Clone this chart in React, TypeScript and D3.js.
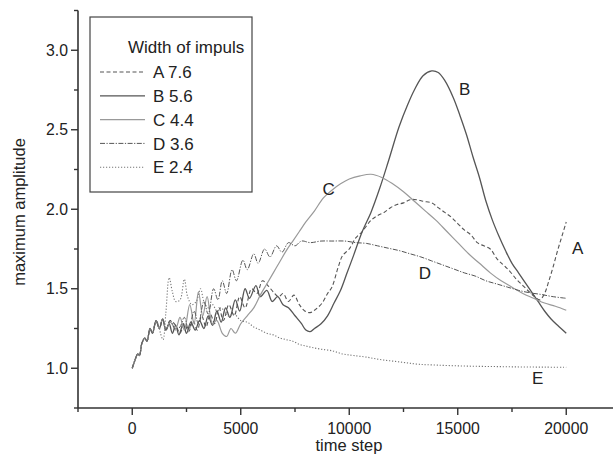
import React from "react";
import * as d3 from "d3";

const ramp: [number, number][] = [
  [0, 1.0], [150, 1.06], [250, 1.09], [330, 1.08], [450, 1.16], [580, 1.19], [680, 1.17],
  [820, 1.25], [930, 1.22], [1100, 1.3], [1250, 1.25],
];

const seriesA: [number, number][] = [
  [1400, 1.31], [1550, 1.24], [1750, 1.3], [2000, 1.27], [2200, 1.22], [2400, 1.28], [2600, 1.23], [2800, 1.3],
  [3000, 1.24], [3200, 1.33], [3400, 1.26], [3600, 1.34], [3800, 1.28], [4000, 1.38], [4200, 1.3],
  [4450, 1.4], [4700, 1.33], [4950, 1.45], [5200, 1.38], [5500, 1.5], [5750, 1.47], [6000, 1.55],
  [6250, 1.52], [6500, 1.48], [6750, 1.45], [6950, 1.47], [7200, 1.42], [7450, 1.46], [7700, 1.4],
  [7950, 1.36], [8200, 1.35], [8450, 1.37], [8750, 1.41], [9000, 1.47], [9200, 1.51], [9500, 1.64],
  [9700, 1.71], [10000, 1.75], [10300, 1.82], [10600, 1.86], [11000, 1.93], [11300, 1.96], [11600, 1.98],
  [11900, 2.01], [12200, 2.03], [12500, 2.04], [12800, 2.06], [13100, 2.06], [13400, 2.05], [13800, 2.04],
  [14100, 2.01], [14400, 1.98], [14700, 1.95], [15000, 1.91], [15300, 1.87], [15600, 1.84], [15900, 1.79],
  [16200, 1.77], [16500, 1.75], [16800, 1.69], [17100, 1.65], [17400, 1.61], [17700, 1.56], [18000, 1.52],
  [18300, 1.48], [18550, 1.45], [18780, 1.43], [19000, 1.47], [19200, 1.55], [19400, 1.64], [19600, 1.74],
  [19800, 1.83], [20000, 1.92],
];

const seriesB: [number, number][] = [
  [1400, 1.31], [1550, 1.24], [1700, 1.28], [1850, 1.22], [2000, 1.27], [2150, 1.21], [2350, 1.28],
  [2500, 1.22], [2700, 1.29], [2900, 1.24], [3100, 1.3], [3300, 1.25], [3500, 1.33], [3700, 1.27], [3900, 1.36],
  [4100, 1.29], [4300, 1.38], [4500, 1.32], [4750, 1.43], [4950, 1.36], [5200, 1.5], [5400, 1.44], [5700, 1.52],
  [5900, 1.45], [6200, 1.49], [6450, 1.42], [6700, 1.45], [6950, 1.4], [7200, 1.38], [7500, 1.33], [7800, 1.28],
  [8000, 1.24], [8200, 1.23], [8400, 1.25], [8700, 1.28], [9000, 1.33], [9300, 1.41], [9600, 1.49], [9900, 1.6],
  [10200, 1.71], [10600, 1.86], [11000, 1.98], [11400, 2.13], [11800, 2.3], [12300, 2.52], [12700, 2.66],
  [13000, 2.75], [13400, 2.84], [13800, 2.87], [14100, 2.86], [14400, 2.81], [14800, 2.7], [15100, 2.59],
  [15400, 2.47], [15700, 2.33], [16000, 2.2], [16300, 2.05], [16600, 1.93], [16900, 1.83], [17200, 1.74],
  [17500, 1.66], [17800, 1.6], [18100, 1.54], [18400, 1.48], [18700, 1.42], [19000, 1.36], [19300, 1.31],
  [19600, 1.27], [20000, 1.22],
];

const seriesC: [number, number][] = [
  [1400, 1.31], [1550, 1.24], [1750, 1.29], [2000, 1.25], [2200, 1.32], [2400, 1.24], [2650, 1.4], [2850, 1.28],
  [3050, 1.48], [3250, 1.33], [3450, 1.45], [3700, 1.28], [3900, 1.3], [4150, 1.22], [4350, 1.2], [4550, 1.25],
  [4750, 1.22], [5000, 1.28], [5300, 1.33], [5600, 1.38], [5900, 1.46], [6200, 1.53], [6500, 1.6], [6800, 1.67],
  [7100, 1.74], [7400, 1.8], [7700, 1.86], [8000, 1.92], [8400, 1.99], [8800, 2.07], [9200, 2.12], [9600, 2.16],
  [10000, 2.19], [10500, 2.21], [11000, 2.22], [11500, 2.2], [12000, 2.16], [12500, 2.11], [13000, 2.05],
  [13500, 1.99], [14000, 1.93], [14500, 1.86], [15000, 1.79], [15500, 1.72], [16000, 1.66], [16500, 1.6],
  [17000, 1.55], [17500, 1.51], [18000, 1.47], [18500, 1.44], [19000, 1.41], [19500, 1.39], [20000, 1.365],
];

const seriesD: [number, number][] = [
  [1400, 1.31], [1550, 1.24], [1750, 1.3], [2000, 1.24], [2200, 1.26], [2400, 1.32], [2600, 1.24], [2850, 1.36],
  [3050, 1.28], [3300, 1.42], [3500, 1.34], [3750, 1.5], [3950, 1.43], [4150, 1.55], [4350, 1.47], [4600, 1.62],
  [4800, 1.55], [5100, 1.68], [5300, 1.62], [5600, 1.72], [5800, 1.66], [6100, 1.75], [6350, 1.7], [6650, 1.77],
  [6900, 1.73], [7200, 1.79], [7500, 1.77], [7800, 1.8], [8200, 1.79], [8700, 1.8], [9200, 1.8], [9800, 1.8],
  [10300, 1.79], [10800, 1.785], [11300, 1.77], [11800, 1.755], [12300, 1.74], [12800, 1.72], [13300, 1.7],
  [13800, 1.675], [14300, 1.65], [14800, 1.625], [15300, 1.6], [15800, 1.58], [16300, 1.55], [16800, 1.53],
  [17300, 1.51], [17800, 1.49], [18300, 1.475], [18800, 1.465], [19400, 1.45], [20000, 1.44],
];

const seriesE: [number, number][] = [
  [1300, 1.22], [1420, 1.18], [1550, 1.35], [1700, 1.57], [1850, 1.48], [2000, 1.42], [2200, 1.43], [2400, 1.56],
  [2550, 1.45], [2750, 1.4], [2950, 1.42], [3150, 1.5], [3300, 1.42], [3500, 1.38], [3700, 1.4], [3900, 1.36],
  [4100, 1.38], [4400, 1.33], [4700, 1.34], [5000, 1.3], [5300, 1.29], [5600, 1.26], [5900, 1.24], [6200, 1.22],
  [6500, 1.21], [6800, 1.19], [7100, 1.18], [7400, 1.17], [7700, 1.15], [8000, 1.14], [8300, 1.13], [8700, 1.12],
  [9200, 1.11], [9700, 1.09], [10200, 1.08], [10800, 1.07], [11400, 1.055], [12000, 1.045], [12600, 1.035],
  [13200, 1.025], [14000, 1.02], [15000, 1.015], [16000, 1.012], [17000, 1.01], [18000, 1.008], [19000, 1.007],
  [20000, 1.006],
];

const legendTitle = "Width of impuls";
const seriesNames = ["A 7.6", "B 5.6", "C 4.4", "D 3.6", "E 2.4"];
const seriesLetters = ["A", "B", "C", "D", "E"];
const labelPos: [number, number][] = [
  [20530, 1.755], [15320, 2.76], [9050, 2.13], [13480, 1.6], [18680, 0.94],
];
const xTicks = [0, 5000, 10000, 15000, 20000];
const xMinor = [-2500, 2500, 7500, 12500, 17500, 22500];
const yTicks = [1.0, 1.5, 2.0, 2.5, 3.0];
const yMinor = [0.75, 1.25, 1.75, 2.25, 2.75, 3.25];

const styles = [
  { stroke: "#555", dash: "4,2.5", width: 1.1 },
  { stroke: "#555", dash: "", width: 1.3 },
  { stroke: "#999", dash: "", width: 1.2 },
  { stroke: "#555", dash: "5,1.5,1.2,1.5", width: 1.0 },
  { stroke: "#777", dash: "1.2,1.8", width: 1.1 },
];

export default function App() {
  const W = 613, H = 462;
  const x = d3.scaleLinear().domain([-2500, 22500]).range([78, 620.5]);
  const y = d3.scaleLinear().domain([0.75, 3.25]).range([408, 10.5]);
  const all = [seriesA, seriesB, seriesC, seriesD, seriesE].map((s) => [...ramp, ...s]);
  const line = d3.line<[number, number]>().x((d) => x(d[0])).y((d) => y(d[1])).curve(d3.curveCatmullRom.alpha(0.5));
  const font = "Liberation Sans, Arial, sans-serif";
  const axisColor = "#333";
  const tickFs = 15.8;
  const legFs = 17;
  return (
    <svg width={W} height={H} style={{ position: "absolute", left: 0, top: 0, background: "#fff" }} fontFamily={font}>
      <rect x={0} y={0} width={W} height={H} fill="#fff" />
      {all.map((s, i) => (
        <path key={i} d={line(s) || ""} fill="none" stroke={styles[i].stroke} strokeWidth={styles[i].width}
          strokeDasharray={styles[i].dash || undefined} />
      ))}
      <line x1={78} x2={78} y1={y(3.25)} y2={408} stroke={axisColor} strokeWidth={1.6} />
      <line x1={78} x2={W} y1={408} y2={408} stroke={axisColor} strokeWidth={1.6} />
      {yTicks.map((t) => (
        <g key={"yt" + t}>
          <line x1={78} x2={71} y1={y(t)} y2={y(t)} stroke={axisColor} strokeWidth={1.4} />
          <text x={68} y={y(t)} dy="0.36em" textAnchor="end" fontSize={tickFs} fill="#222">{t.toFixed(1)}</text>
        </g>
      ))}
      {yMinor.map((t) => (
        <line key={"ym" + t} x1={78} x2={74} y1={y(t)} y2={y(t)} stroke={axisColor} strokeWidth={1.4} />
      ))}
      {xTicks.map((t) => (
        <g key={"xt" + t}>
          <line x1={x(t)} x2={x(t)} y1={408} y2={415} stroke={axisColor} strokeWidth={1.4} />
          <text x={x(t)} y={434} textAnchor="middle" fontSize={tickFs} fill="#222">{t}</text>
        </g>
      ))}
      {xMinor.map((t) => (
        <line key={"xm" + t} x1={x(t)} x2={x(t)} y1={408} y2={412} stroke={axisColor} strokeWidth={1.4} />
      ))}
      <text x={349} y={451} textAnchor="middle" fontSize={16.5} fill="#222">time step</text>
      <text transform="translate(25,212) rotate(-90)" textAnchor="middle" fontSize={16.5} fill="#222">maximum amplitude</text>
      {seriesLetters.map((l, i) => (
        <text key={"lab" + l} x={x(labelPos[i][0])} y={y(labelPos[i][1])} dy="0.36em" textAnchor="middle" fontSize={17} fill="#222">{l}</text>
      ))}
      <rect x={90} y={17} width={162} height={175} fill="#fff" stroke="#444" strokeWidth={1.2} />
      <text x={128} y={53} fontSize={legFs} fill="#222">{legendTitle}</text>
      {seriesNames.map((n, i) => (
        <g key={"lg" + n}>
          <line x1={100} x2={145} y1={72 + i * 23.8} y2={72 + i * 23.8} stroke={styles[i].stroke}
            strokeWidth={styles[i].width} strokeDasharray={styles[i].dash || undefined} />
          <text x={153} y={72 + i * 23.8} dy="0.36em" fontSize={legFs} fill="#222">{n}</text>
        </g>
      ))}
    </svg>
  );
}
